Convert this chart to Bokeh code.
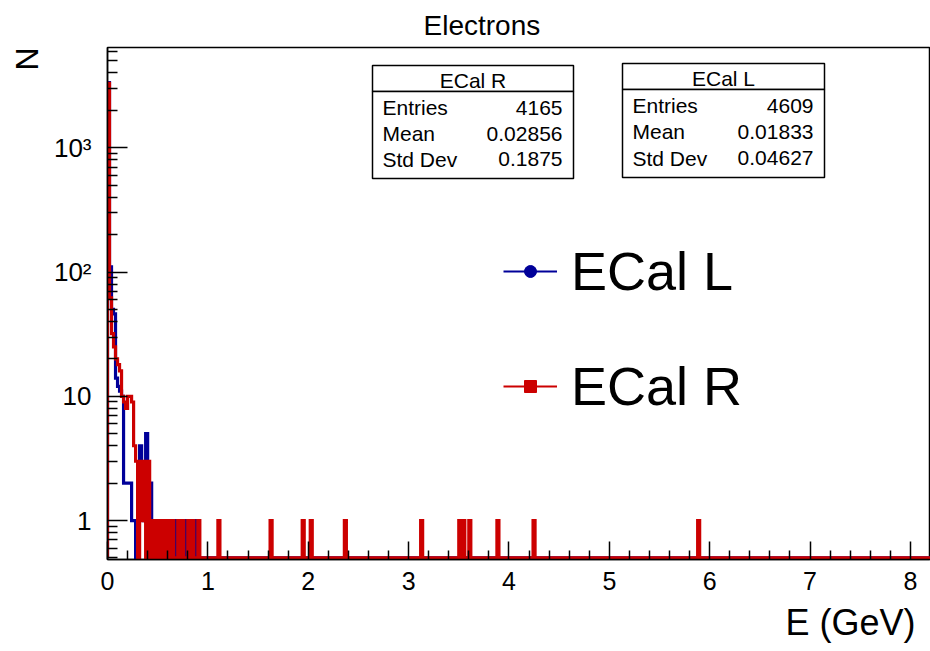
import numpy as np
from bokeh.plotting import figure
from bokeh.models import (Range1d, FixedTicker, Label, BoxAnnotation, Legend,
                          LegendItem, Title)
from bokeh.embed import file_html
from bokeh.resources import INLINE

FONT = "Liberation Sans"
BLUE = "#000099"
RED = "#cc0000"

# ---------------- data ----------------
BIN_W = 0.02          # GeV per bin
X_MAX = 8.2
Y_MIN, Y_MAX = 0.5, 6400

# counts of the first 50 bins (0 - 1 GeV), ECal L
ecal_l_counts = [3350, 110, 50, 46, 14, 12, 11, 10, 2, 2,
                 2, 2, 1, 1, 0, 1, 4, 2, 1, 5,
                 1, 2, 1, 0, 1, 0, 1, 1, 0, 1,
                 0, 1, 0, 1, 0, 0, 0, 0, 0, 1,
                 0, 0, 0, 0, 1, 0, 0, 0, 0, 0]
# counts of the first 50 bins (0 - 1 GeV), ECal R
ecal_r_counts = [3300, 62, 32, 25, 20, 18, 16, 10, 9, 8,
                 10, 10, 9, 4, 3, 0, 3, 1, 3, 0,
                 3, 0, 1, 0, 1, 0, 1, 0, 1, 0,
                 1, 0, 1, 0, 0, 1, 0, 1, 0, 0,
                 1, 0, 1, 0, 0, 1, 0, 0, 0, 0]
# single entries above 1 GeV (bin centres, GeV), ECal R
ecal_r_tail = [1.11, 1.63, 1.95, 2.03, 2.37, 3.13, 3.51, 3.55, 3.61,
               3.89, 4.25, 5.89]

stat_names = ["Entries", "Mean", "Std Dev"]
ecal_r_stats = ["4165", "0.02856", "0.1875"]
ecal_l_stats = ["4609", "0.01833", "0.04627"]

x_ticks = [0, 1, 2, 3, 4, 5, 6, 7, 8]
y_ticks = [1, 10, 100, 1000]
y_tick_labels = ["1", "10", "10\u00b2", "10\u00b3"]


def hist_path(dense, tail):
    n = int(round(X_MAX / BIN_W))
    counts = np.zeros(n)
    counts[:len(dense)] = dense
    for e in tail:
        counts[int(e / BIN_W)] += 1
    edges = np.arange(n + 1) * BIN_W
    yv = np.where(counts > 0, counts, Y_MIN)
    xs = np.concatenate([[0.0], np.repeat(edges, 2)[1:-1], [edges[-1]]])
    ys = np.concatenate([[Y_MIN], np.repeat(yv, 2), [Y_MIN]])
    return xs, ys


p = figure(width=930, height=651, x_range=Range1d(0, X_MAX),
           y_range=Range1d(0.486, 6412), y_axis_type="log",
           output_backend="svg", toolbar_location=None,
           min_border_left=107, min_border_right=0, min_border_top=46,
           min_border_bottom=92)
p.grid.visible = False
p.outline_line_color = "black"
p.outline_line_width = 1.5
p.background_fill_color = "white"
p.border_fill_color = "white"

# title
p.title.text = "Electrons"
p.title.text_font = FONT
p.title.text_font_size = "28px"
p.title.text_font_style = "normal"
p.title.text_color = "black"
p.title.align = "left"
p.title.offset = 316
p.title.standoff = 14

# axes
xa = p.xaxis[0]
xa.ticker = FixedTicker(ticks=x_ticks,
                        minor_ticks=[i * 0.2 for i in range(42) if i % 5])
xa.major_tick_in = 18
xa.major_tick_out = 0
xa.minor_tick_in = 9
xa.minor_tick_out = 0
xa.axis_line_width = 1.5
xa.major_tick_line_width = 1.5
xa.minor_tick_line_width = 1.5
xa.major_label_text_font = FONT
xa.major_label_text_font_size = "25px"
xa.major_label_text_color = "black"
xa.major_label_standoff = 12

ya = p.yaxis[0]
minor_y = ([0.5, 0.6, 0.7, 0.8, 0.9] + [k for k in range(2, 10)]
           + [10 * k for k in range(2, 10)] + [100 * k for k in range(2, 10)]
           + [1000 * k for k in range(2, 7)])
ya.ticker = FixedTicker(ticks=y_ticks, minor_ticks=minor_y)
ya.major_label_overrides = {t: s for t, s in zip(y_ticks, y_tick_labels)}
ya.major_tick_in = 20
ya.major_tick_out = 0
ya.minor_tick_in = 10
ya.minor_tick_out = 0
ya.axis_line_width = 1.5
ya.major_tick_line_width = 1.5
ya.minor_tick_line_width = 1.5
ya.major_label_text_font = FONT
ya.major_label_text_font_size = "26px"
ya.major_label_text_color = "black"
ya.major_label_standoff = 16

p.add_layout(Title(text="E (GeV)", align="right", offset=15, standoff=15,
                   text_font=FONT, text_font_size="36px",
                   text_font_style="normal", text_color="black"), "below")
p.add_layout(Title(text="N", align="right", offset=0, standoff=12,
                   text_font=FONT, text_font_size="32px",
                   text_font_style="normal", text_color="black"), "left")

# histograms
lx, ly = hist_path(ecal_l_counts, [])
rx, ry = hist_path(ecal_r_counts, ecal_r_tail)
p.line(lx, ly, line_color=BLUE, line_width=3.2, line_join="miter")
p.line(rx, ry, line_color=RED, line_width=3.2, line_join="miter")


# stat boxes (screen units relative to the frame's bottom-left corner)
def stat_box(left, right, top, sep, bottom, title, values, rows):
    for t, b in ((top, sep), (sep, bottom)):
        p.add_layout(BoxAnnotation(left=left, right=right, top=t, bottom=b,
                                   left_units="screen", right_units="screen",
                                   top_units="screen", bottom_units="screen",
                                   fill_color="white", fill_alpha=1,
                                   line_color="black", line_width=1.5,
                                   line_alpha=1))
    p.add_layout(Label(x=(left + right) / 2, y=rows[0], x_units="screen",
                       y_units="screen", text=title, text_align="center",
                       text_baseline="middle", text_font=FONT,
                       text_font_size="21px", text_color="black"))
    for name, val, b in zip(stat_names, values, rows[1:]):
        p.add_layout(Label(x=left + 10, y=b, x_units="screen",
                           y_units="screen", text=name, text_align="left",
                           text_baseline="middle", text_font=FONT,
                           text_font_size="21px", text_color="black"))
        p.add_layout(Label(x=right - 11, y=b, x_units="screen",
                           y_units="screen", text=val, text_align="right",
                           text_baseline="middle", text_font=FONT,
                           text_font_size="21px", text_color="black"))


stat_box(265, 466, 494, 468, 381, "ECal R", ecal_r_stats,
         [479, 452, 426, 400.5])
stat_box(515, 717, 496, 470, 382, "ECal L", ecal_l_stats,
         [481, 454, 427.7, 401.5])

# legend (key glyphs only; NaN data keeps them off the plot area)
l_line = p.line([np.nan], [np.nan], line_color=BLUE, line_width=2)
l_mark = p.scatter([np.nan], [np.nan], marker="circle", color=BLUE)
r_line = p.line([np.nan], [np.nan], line_color=RED, line_width=2)
r_mark = p.scatter([np.nan], [np.nan], marker="square", color=RED)
legend = Legend(items=[LegendItem(label="ECal L", renderers=[l_line, l_mark]),
                       LegendItem(label="ECal R", renderers=[r_line, r_mark])],
                location=(396, 142), glyph_width=54, glyph_height=30,
                label_standoff=14, spacing=53, padding=0, margin=0,
                border_line_color=None, background_fill_alpha=0,
                label_text_font=FONT, label_text_font_size="54px",
                label_text_color="black")
p.add_layout(legend)

open("out.html", "w").write(file_html(p, INLINE))
